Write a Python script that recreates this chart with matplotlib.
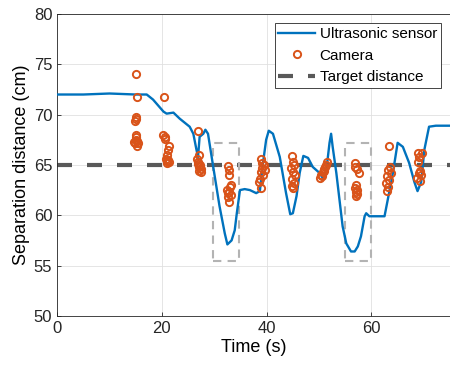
import numpy as np
import matplotlib.pyplot as plt
from matplotlib.patches import Rectangle

plt.rcParams['font.family'] = ['Liberation Sans', 'DejaVu Sans']

# --- data ---
sensor_t = [0, 5, 10, 15, 17.1, 18.3, 20.3, 20.9, 22.2, 23.4, 25.3, 26.0, 26.6, 26.9,
            27.2, 27.9, 28.3, 28.8, 29.8, 31.0, 32.0, 32.5, 33.3, 33.9, 34.3, 34.9,
            35.8, 36.8, 38.0, 38.7, 39.3, 39.9, 40.4, 41.2, 42.5, 43.7, 44.5, 45.0,
            45.7, 46.3, 47.0, 47.9, 48.8, 50.1, 50.7, 51.4, 52.0, 52.3, 52.6, 53.3,
            54.5, 55.2, 56.1, 56.8, 57.4, 58.0, 58.7, 59.0, 59.6, 60.9, 62.5, 63.1,
            64.1, 65.0, 66.0, 67.2, 68.2, 68.8, 69.5, 70.1, 71.0, 72.3, 75.0]
sensor_y = [72.0, 72.0, 72.1, 72.0, 72.0, 71.5, 70.3, 70.1, 70.2, 69.6, 68.8, 68.1, 66.5, 65.8,
            67.8, 68.1, 68.5, 68.1, 64.8, 60.9, 58.2, 57.1, 57.5, 58.5, 60.2, 62.5,
            62.6, 62.5, 62.2, 62.4, 65.2, 67.5, 68.4, 68.1, 65.8, 62.2, 60.1, 60.2,
            61.9, 64.2, 65.9, 65.7, 64.8, 64.2, 63.7, 64.5, 67.2, 68.1, 66.8, 64.2,
            58.9, 57.2, 56.4, 56.4, 56.9, 57.9, 59.9, 60.2, 59.9, 59.9, 59.9, 61.5,
            64.2, 67.2, 66.8, 65.2, 63.3, 62.4, 63.3, 66.5, 68.8, 68.9, 68.9]

cam_t = [15.0, 15.3, 15.0, 15.0, 14.9, 15.0, 15.1, 14.6, 14.8, 15.2, 15.5, 15.3, 15.0,
         20.4, 20.3, 20.5, 20.6, 21.4, 21.2, 21.0, 20.8, 21.0, 21.3, 20.9, 21.2,
         26.8, 27.0, 26.7, 26.9, 27.2, 27.0, 27.4, 27.1, 27.5, 26.8,
         32.7, 32.8, 32.9, 33.2, 33.0, 32.5, 32.7, 33.1, 32.6, 32.9, 32.8,
         39.0, 39.2, 39.4, 39.1, 38.9, 39.3, 38.8, 38.6, 38.9, 39.6,
         44.8, 45.0, 45.3, 44.7, 45.1, 45.4, 44.9, 45.2, 44.8, 45.0,
         50.4, 50.7, 51.0, 51.3, 51.5, 50.6, 50.2, 51.1, 50.9,
         56.9, 56.8, 57.2, 57.7, 57.0, 56.8, 57.2, 57.0, 57.3, 57.1,
         63.4, 63.5, 63.2, 63.7, 63.0, 63.3, 62.8, 63.1, 62.9,
         68.8, 69.6, 69.0, 68.9, 69.3, 69.5, 68.7, 69.2, 69.0]
cam_y = [74.0, 71.8, 69.8, 69.6, 69.4, 68.0, 67.8, 67.3, 67.2, 67.4, 67.2, 66.9, 67.5,
         71.8, 68.0, 67.8, 67.6, 66.9, 66.5, 66.0, 65.6, 65.4, 65.3, 65.2, 65.5,
         68.4, 66.0, 65.6, 65.3, 65.0, 64.8, 64.6, 64.4, 64.3, 65.1,
         64.9, 64.5, 64.0, 63.0, 62.8, 62.5, 62.2, 62.0, 61.8, 62.3, 61.3,
         65.6, 65.2, 65.0, 64.7, 64.3, 64.0, 63.6, 63.3, 62.7, 64.5,
         65.9, 65.3, 65.0, 64.7, 64.3, 64.0, 63.6, 63.2, 62.9, 62.7,
         64.0, 64.3, 64.6, 65.0, 65.3, 63.9, 63.7, 64.8, 64.4,
         65.2, 64.8, 64.6, 64.2, 63.0, 62.7, 62.5, 62.3, 62.1, 61.9,
         66.9, 64.8, 64.5, 64.2, 63.9, 63.5, 63.2, 62.8, 62.4,
         66.2, 66.2, 65.8, 65.3, 64.4, 64.0, 63.7, 63.4, 64.2]

target = 65
# highlighted windows: (t_start, t_end, y_low, y_high)
boxes = [(29.7, 34.7, 55.5, 67.2), (55.0, 60.0, 55.5, 67.2)]

fig = plt.figure(figsize=(4.5, 3.69), dpi=100)
ax = fig.add_axes([0.127, 0.144, 0.873, 0.818])

ax.plot(sensor_t, sensor_y, color='#0072BD', lw=1.7, label='Ultrasonic sensor', zorder=3)
ax.plot(cam_t, cam_y, 'o', mfc='none', mec='#D95319', ms=5.2, mew=1.4, label='Camera', zorder=4)
ax.axhline(target, color='#595959', lw=3, ls=(0, (3.6, 3.6)), label='Target distance', zorder=2)

for t0, t1, y0, y1 in boxes:
    ax.add_patch(Rectangle((t0, y0), t1 - t0, y1 - y0, fill=False, ec='#b3b3b3',
                           lw=1.5, ls=(0, (4, 3)), zorder=2.5))

ax.set_xlim(0, 75)
ax.set_ylim(50, 80)
ax.set_xticks([0, 20, 40, 60])
ax.set_yticks(np.arange(50, 81, 5))
ax.tick_params(direction='in', labelsize=12, length=3, width=0.6, colors='#262626')
ax.grid(True, color='#e0e0e0', lw=0.6)
ax.set_axisbelow(True)
ax.spines['right'].set_visible(False)
for s in ['left', 'top', 'bottom']:
    ax.spines[s].set_linewidth(0.6)
    ax.spines[s].set_color('#262626')

ax.set_xlabel('Time (s)', fontsize=13, labelpad=2)
ax.set_ylabel('Separation distance (cm)', fontsize=13, labelpad=3)

leg = ax.legend(loc='upper right', fontsize=11, fancybox=False, framealpha=1,
                borderaxespad=0.6, handlelength=2.4, labelspacing=0.5,
                handletextpad=0.3, borderpad=0.25)
leg.get_frame().set_edgecolor('#262626')
leg.get_frame().set_linewidth(0.6)

fig.savefig('out.png', dpi=100)
